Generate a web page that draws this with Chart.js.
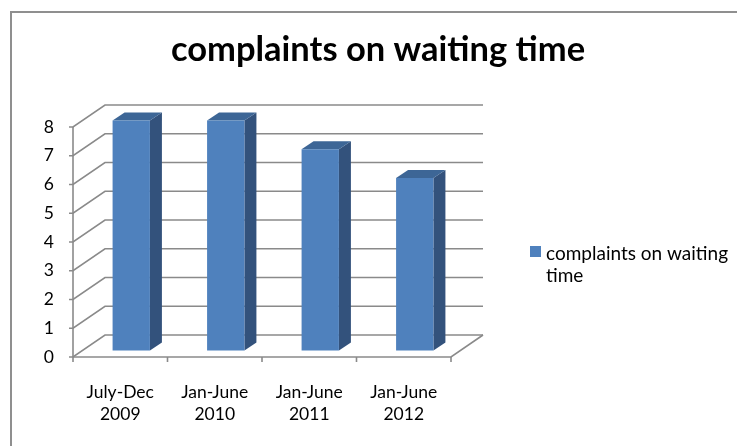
<!DOCTYPE html>
<html><head><meta charset="utf-8">
<script src="https://cdn.jsdelivr.net/npm/chart.js@4"></script>
<style>html,body{margin:0;padding:0;background:#fff}canvas{display:block}</style>
</head><body>
<canvas id="c" width="737" height="446"></canvas>
<script>
const titleText = 'complaints on waiting time';
const categories = [['July-Dec','2009'],['Jan-June','2010'],['Jan-June','2011'],['Jan-June','2012']];
const seriesName = 'complaints on waiting time';
const seriesValues = [8, 8, 7, 6];
const yTicks = [0, 1, 2, 3, 4, 5, 6, 7, 8];

const FONT = 'Lato, Carlito, Calibri, sans-serif';
const COL = {front:'#4f81bd', side:'#33527c', top:'#3d6696', grid:'#8a8a8a', frame:'#8f8f8f'};
const WALL = {dx:32, dy:-22};
const SHIFT = {dx:11, dy:-6.5};
const BDEPTH = {dx:12, dy:-8};

// pick font sizes so text widths match the reference
const mctx = document.createElement('canvas').getContext('2d');
function fitSize(text, weight, target){
  mctx.font = weight + ' 100px ' + FONT;
  return Math.round(100 * target / mctx.measureText(text).width * 2) / 2;
}
const TITLE_SIZE = fitSize(titleText, 'bold', 413);
const LABEL_SIZE = fitSize('July-Dec', 'normal', 68);
const LEGEND_SIZE = fitSize('complaints on waiting', 'normal', 184);

function wrap(ctx, text, maxW){
  const words = text.split(' '); const lines = []; let cur = '';
  words.forEach(w => {
    const t = cur ? cur + ' ' + w : w;
    if (ctx.measureText(t).width > maxW && cur) { lines.push(cur); cur = w; } else cur = t;
  });
  if (cur) lines.push(cur);
  return lines;
}

const scene = {
  id: 'scene',
  beforeDraw(chart){
    const ctx = chart.ctx;
    ctx.save();
    ctx.fillStyle = '#fff'; ctx.fillRect(0, 0, chart.width, chart.height);
    ctx.strokeStyle = COL.frame; ctx.lineWidth = 2;
    ctx.beginPath(); ctx.moveTo(11, chart.height); ctx.lineTo(11, 12); ctx.lineTo(chart.width, 12); ctx.stroke();
    ctx.restore();
  },
  beforeDatasetsDraw(chart){
    const ctx = chart.ctx, xs = chart.scales.x, ys = chart.scales.y;
    const L = xs.getPixelForValue(-0.5), R = xs.getPixelForValue(categories.length - 0.5);
    const B = ys.getPixelForValue(0);
    ctx.save();
    ctx.strokeStyle = COL.grid; ctx.lineWidth = 1.6;
    yTicks.forEach(v => {
      const py = ys.getPixelForValue(v);
      ctx.beginPath();
      ctx.moveTo(L - 4, py); ctx.lineTo(L, py);
      ctx.lineTo(L + WALL.dx, py + WALL.dy); ctx.lineTo(R + WALL.dx, py + WALL.dy);
      ctx.stroke();
    });
    ctx.beginPath();
    ctx.moveTo(L, B); ctx.lineTo(R, B); ctx.lineTo(R + WALL.dx, B + WALL.dy);
    ctx.stroke();
    ctx.beginPath();
    ctx.moveTo(L, B); ctx.lineTo(L, ys.getPixelForValue(yTicks[yTicks.length - 1]));
    ctx.stroke();
    for (let i = 0; i <= categories.length; i++) {
      const px = xs.getPixelForValue(i - 0.5);
      ctx.beginPath(); ctx.moveTo(px, B); ctx.lineTo(px, B + 5); ctx.stroke();
    }
    // 3D bars
    const meta = chart.getDatasetMeta(0);
    meta.data.forEach(el => {
      const p = el.getProps(['x', 'y', 'base', 'width'], true);
      const x0 = p.x - p.width / 2 + SHIFT.dx, x1 = p.x + p.width / 2 + SHIFT.dx;
      const yb = p.base + SHIFT.dy, yt = p.y + SHIFT.dy;
      ctx.fillStyle = COL.side;
      ctx.beginPath();
      ctx.moveTo(x1, yb); ctx.lineTo(x1 + BDEPTH.dx, yb + BDEPTH.dy);
      ctx.lineTo(x1 + BDEPTH.dx, yt + BDEPTH.dy); ctx.lineTo(x1, yt); ctx.closePath(); ctx.fill();
      ctx.fillStyle = COL.top;
      ctx.beginPath();
      ctx.moveTo(x0, yt); ctx.lineTo(x0 + BDEPTH.dx, yt + BDEPTH.dy);
      ctx.lineTo(x1 + BDEPTH.dx, yt + BDEPTH.dy); ctx.lineTo(x1, yt); ctx.closePath(); ctx.fill();
      ctx.fillStyle = COL.front;
      ctx.fillRect(x0, yt, x1 - x0, yb - yt);
    });
    ctx.restore();
    return false;
  },
  afterDraw(chart){
    const ctx = chart.ctx;
    ctx.save();
    // title
    ctx.font = 'bold ' + TITLE_SIZE + 'px ' + FONT;
    ctx.fillStyle = '#000'; ctx.textAlign = 'center'; ctx.textBaseline = 'middle';
    ctx.fillText(titleText, 378, 50);
    // legend
    ctx.font = LEGEND_SIZE + 'px ' + FONT;
    ctx.fillStyle = COL.front;
    ctx.fillRect(530, 246, 11, 11);
    ctx.fillStyle = '#000'; ctx.textAlign = 'left';
    const lines = wrap(ctx, seriesName, 195);
    lines.forEach((t, i) => ctx.fillText(t, 546, 254 + i * 22));
    ctx.restore();
  }
};

new Chart(document.getElementById('c'), {
  type: 'bar',
  data: {
    labels: categories,
    datasets: [{label: seriesName, data: seriesValues, backgroundColor: COL.front,
      barPercentage: 0.395, categoryPercentage: 1}]
  },
  options: {
    responsive: false, animation: false, devicePixelRatio: 1,
    layout: {padding: {left: 0, right: 286, top: 127, bottom: 0}},
    plugins: {legend: {display: false}, tooltip: {enabled: false}, title: {display: false}},
    scales: {
      x: {
        grid: {display: false, drawTicks: false}, border: {display: false},
        ticks: {color: '#000', padding: 24, font: {family: FONT, size: LABEL_SIZE, lineHeight: 22 / LABEL_SIZE}, maxRotation: 0, autoSkip: false},
        afterFit: s => { s.height = 89; }
      },
      y: {
        min: 0, max: 8,
        grid: {display: false, drawTicks: false}, border: {display: false},
        ticks: {color: '#000', padding: 19, font: {family: FONT, size: LABEL_SIZE}},
        afterBuildTicks: s => { s.ticks = yTicks.map(v => ({value: v})); },
        afterFit: s => { s.width = 73; }
      }
    }
  },
  plugins: [scene]
});
</script>
</body></html>
